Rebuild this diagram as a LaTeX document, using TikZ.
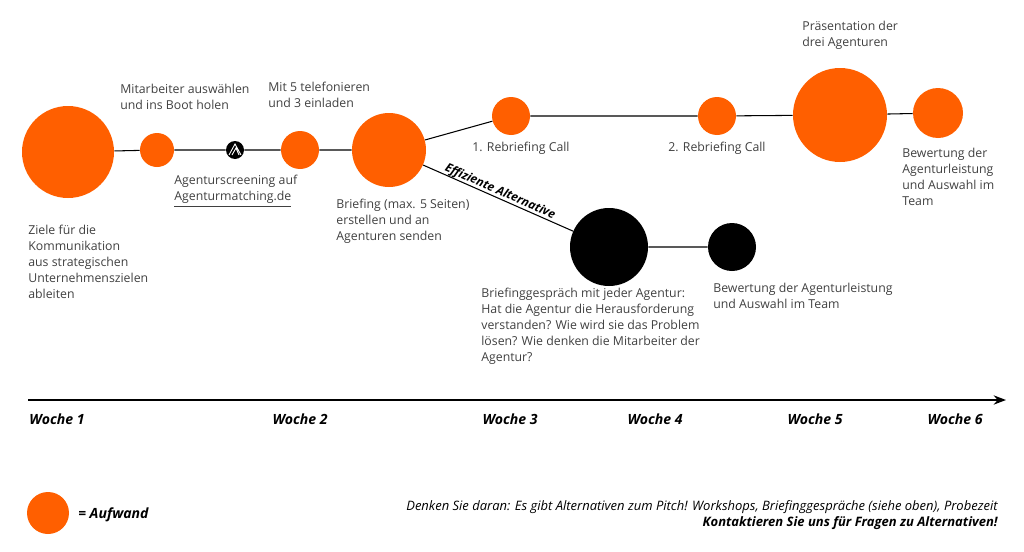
\documentclass[tikz,border=0pt]{standalone}
\usepackage{fontspec}
\setmainfont{Open Sans}
\usetikzlibrary{arrows.meta}
\definecolor{aufwand}{HTML}{FF5F00}
\definecolor{txt}{HTML}{404040}
\tikzset{
  dot/.style={circle, fill=aufwand, inner sep=0pt, minimum size=#1},
  bdot/.style={circle, fill=black, inner sep=0pt, minimum size=#1},
  lbl/.style={text=txt, font=\fontsize{7}{9}\selectfont, align=left, inner sep=0pt},
  woche/.style={font=\fontsize{8}{9}\selectfont\bfseries\itshape, inner sep=0pt},
  verb/.style={line width=.6pt}
}
\begin{document}
\begin{tikzpicture}[x=0.02cm, y=-0.02cm]
  \useasboundingbox (0,0) rectangle (1024,551);
  % Kreise
  \node[dot=92*0.02cm] (ziele) at (68,152) {};
  \node[dot=34*0.02cm] (mit) at (157,150) {};
  \node[bdot=18*0.02cm] (logo) at (235,150) {};
  \node[dot=38*0.02cm] (tel) at (300,150) {};
  \node[dot=74*0.02cm] (brief) at (389,150) {};
  \node[dot=38*0.02cm] (rb1) at (511,116) {};
  \node[dot=38*0.02cm] (rb2) at (717,116) {};
  \node[dot=94*0.02cm] (pres) at (840,115) {};
  \node[dot=50*0.02cm] (bew) at (938,113) {};
  \node[bdot=78*0.02cm] (gespr) at (609,247) {};
  \node[bdot=48*0.02cm] (bew2) at (732,247) {};
  % Logo
  \draw[white, line width=.5pt] (229,155) -- (235,144) -- (241,155)
    (232,155) -- (236,148) -- (239,155);
  % Verbindungen
  \draw[verb] (ziele) -- (mit) -- (logo) -- (tel) -- (brief);
  \draw[verb] (brief) -- (rb1) -- (rb2) -- (pres) -- (bew);
  \draw[verb] (brief) -- (gespr) -- (bew2);
  \node[font=\fontsize{6.8}{8}\selectfont\bfseries\itshape, rotate=-23.8, inner sep=0pt]
    at (500,192) {Effiziente Alternative};
  % Texte
  \node[lbl, anchor=north west] at (28,225) {Ziele für die\\Kommunikation\\aus strategischen\\Unternehmenszielen\\ableiten};
  \node[lbl, anchor=north west] at (120,84) {Mitarbeiter auswählen\\und ins Boot holen};
  \node[lbl, anchor=north west] at (174,175) {Agenturscreening auf\\\underline{Agenturmatching.de}\hfill};
  \node[lbl, anchor=north west] at (268,82) {Mit 5 telefonieren\\und 3 einladen};
  \node[lbl, anchor=north west] at (336,199) {Briefing (max. 5 Seiten)\\erstellen und an\\Agenturen senden};
  \node[lbl, anchor=north west] at (472,142) {1. Rebriefing Call};
  \node[lbl, anchor=north west] at (668,142) {2. Rebriefing Call};
  \node[lbl, anchor=north west] at (802,21) {Präsentation der\\drei Agenturen};
  \node[lbl, anchor=north west] at (902,148) {Bewertung der\\Agenturleistung\\und Auswahl im\\Team};
  \node[lbl, anchor=north west] at (481,288) {Briefinggespräch mit jeder Agentur:\\Hat die Agentur die Herausforderung\\verstanden? Wie wird sie das Problem\\lösen? Wie denken die Mitarbeiter der\\Agentur?};
  \node[lbl, anchor=north west] at (713,283) {Bewertung der Agenturleistung\\und Auswahl im Team};
  % Zeitachse
  \draw[-{Stealth[length=7pt]}, line width=1.1pt] (28,400) -- (1006,400);
  \foreach \x/\w in {57/1, 300/2, 510/3, 655/4, 815/5, 955/6}
    \node[woche] at (\x,419) {Woche \w};
  % Legende
  \node[dot=42*0.02cm] (leg) at (48,513) {};
  \node[woche, anchor=west] at (78,515) {= Aufwand};
  \node[font=\fontsize{7.4}{9.5}\selectfont\itshape, align=right, anchor=north east, inner sep=0pt]
    at (998,500) {Denken Sie daran: Es gibt Alternativen zum Pitch! Workshops, Briefinggespräche (siehe oben), Probezeit\\\textbf{Kontaktieren Sie uns für Fragen zu Alternativen!}};
\end{tikzpicture}
\end{document}
